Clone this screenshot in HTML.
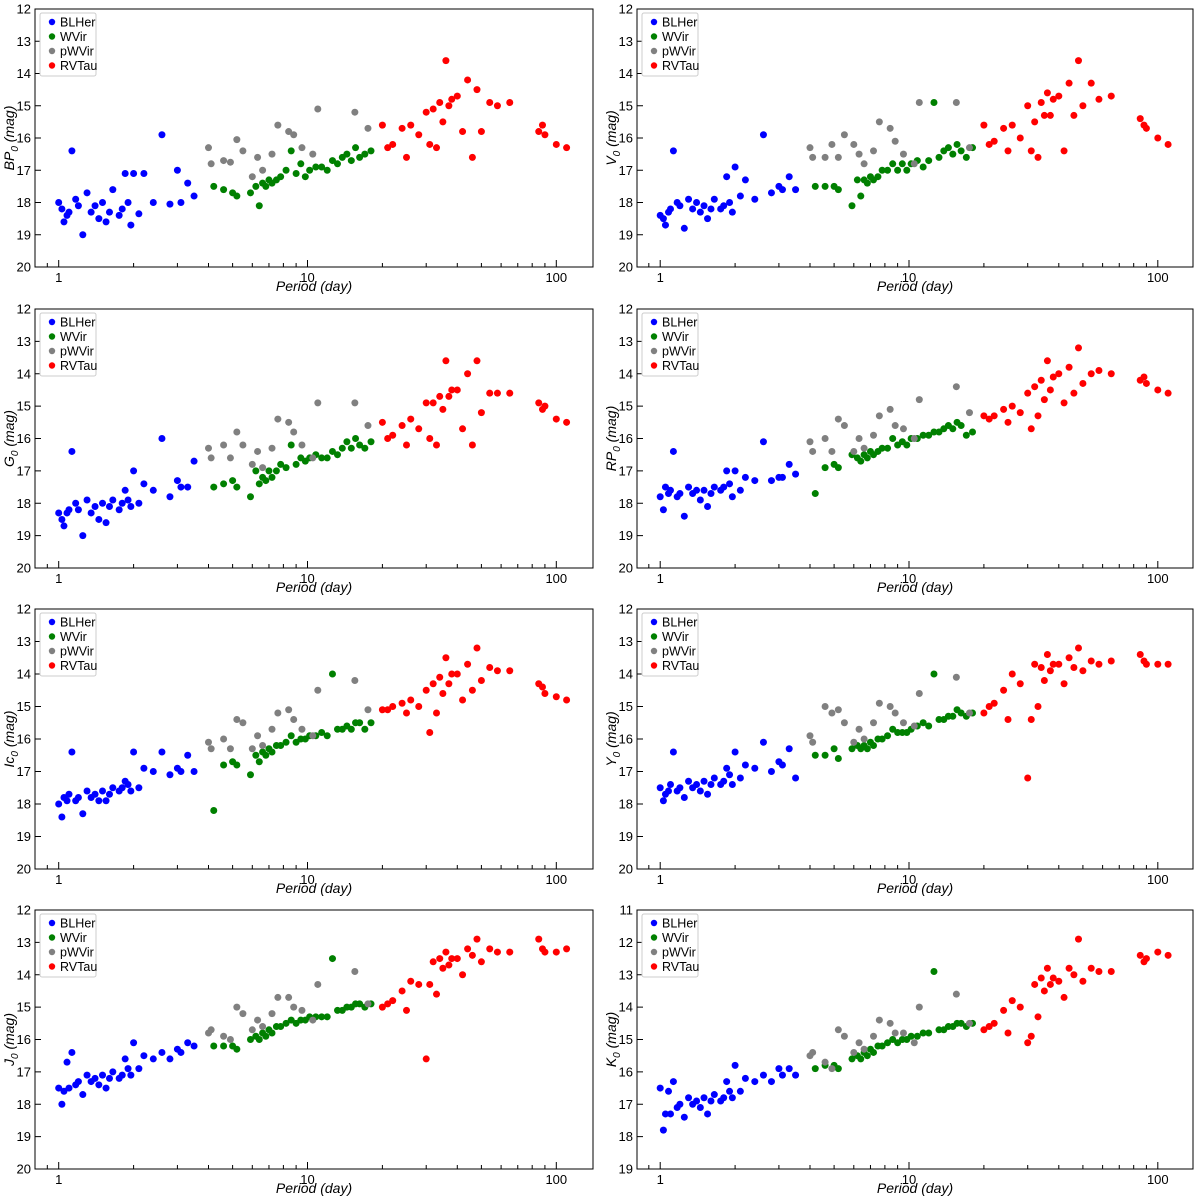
<!DOCTYPE html>
<html><head><meta charset="utf-8"><style>
body{margin:0;background:#fff;}
svg{display:block;font-family:"Liberation Sans",sans-serif;}
</style></head><body>
<svg id="fig" width="1200" height="1198" xmlns="http://www.w3.org/2000/svg"></svg>
<script>
const classNames = ["BLHer","WVir","pWVir","RVTau"];
const classColors = ["#0000ff","#008000","#808080","#ff0000"];
const perBLHer = [1.0,1.03,1.05,1.08,1.1,1.13,1.17,1.2,1.25,1.3,1.35,1.4,1.45,1.5,1.55,1.6,1.65,1.75,1.8,1.85,1.9,1.95,2.0,2.1,2.2,2.4,2.6,2.8,3.0,3.1,3.3,3.5];
const perWVir = [4.2,4.6,5.0,5.2,5.9,6.2,6.4,6.6,6.8,7.0,7.2,7.5,7.8,8.2,8.6,9.0,9.4,9.8,10.2,10.8,11.4,12.0,12.6,13.2,13.8,14.4,15.0,15.6,16.2,17.0,18.0];
const perPWVir = [4.0,4.1,4.6,4.9,5.2,5.5,6.0,6.3,6.6,7.2,7.6,8.4,8.8,9.5,10.5,11.0,15.5,17.5];
const perRVTau = [20,21,22,24,25,26,28,30,31,32,33,34,35,36,37,38,40,42,44,46,48,50,54,58,65,85,88,90,100,110];
const bandLabels = ["BP","V","G","RP","Ic","Y","J","K"];
const yRanges = [[12,20],[12,20],[12,20],[12,20],[12,20],[12,20],[12,20],[11,19]];
const magBLHer = [
[18.0,18.2,18.6,18.4,18.3,16.4,17.9,18.1,19.0,17.7,18.3,18.1,18.5,18.0,18.6,18.3,17.6,18.4,18.2,17.1,18.0,18.7,17.1,18.35,17.1,18.0,15.9,18.05,17.0,18.0,17.4,17.8],
[18.4,18.5,18.7,18.3,18.2,16.4,18.0,18.1,18.8,17.9,18.2,18.0,18.3,18.1,18.5,18.2,17.9,18.2,18.1,17.2,18.0,18.3,16.9,17.8,17.3,17.9,15.9,17.7,17.5,17.6,17.2,17.6],
[18.3,18.5,18.7,18.3,18.2,16.4,18.0,18.2,19.0,17.9,18.3,18.1,18.5,18.0,18.6,18.1,17.9,18.2,18.0,17.6,17.9,18.1,17.0,18.0,17.4,17.6,16.0,17.8,17.3,17.5,17.5,16.7],
[17.8,18.2,17.5,17.7,17.6,16.4,17.8,17.7,18.4,17.5,17.7,17.6,17.9,17.6,18.1,17.7,17.5,17.6,17.5,17.0,17.4,17.8,17.0,17.6,17.2,17.3,16.1,17.3,17.2,17.2,16.8,17.1],
[18.0,18.4,17.8,17.9,17.7,16.4,17.9,17.8,18.3,17.6,17.8,17.7,17.9,17.6,17.9,17.7,17.5,17.6,17.5,17.3,17.4,17.6,16.4,17.5,16.9,17.0,16.4,17.1,16.9,17.0,16.5,17.0],
[17.5,17.9,17.7,17.6,17.4,16.4,17.6,17.5,17.8,17.3,17.5,17.4,17.6,17.3,17.7,17.4,17.2,17.4,17.3,16.9,17.1,17.4,16.4,17.2,16.8,16.9,16.1,17.0,16.7,16.8,16.3,17.2],
[17.5,18.0,17.6,16.7,17.5,16.4,17.4,17.3,17.7,17.1,17.3,17.2,17.4,17.1,17.5,17.2,17.0,17.2,17.1,16.6,16.9,17.1,16.1,16.9,16.5,16.6,16.4,16.6,16.3,16.4,16.1,16.2],
[16.5,17.8,17.3,16.6,17.3,16.3,17.1,17.0,17.4,16.8,17.0,16.9,17.1,16.8,17.3,16.9,16.7,16.9,16.8,16.3,16.6,16.8,15.8,16.6,16.2,16.3,16.1,16.3,15.9,16.1,15.9,16.1]];
const magWVir = [
[17.5,17.6,17.7,17.8,17.7,17.5,18.1,17.4,17.5,17.3,17.4,17.3,17.2,17.0,16.4,17.1,16.8,17.2,17.0,16.9,16.9,17.0,16.7,16.8,16.6,16.5,16.7,16.3,16.6,16.5,16.4],
[17.5,17.5,17.5,17.6,18.1,17.3,17.8,17.3,17.4,17.2,17.3,17.2,17.0,17.0,16.8,17.0,16.8,17.0,16.8,16.7,16.9,16.7,14.9,16.6,16.4,16.3,16.5,16.2,16.4,16.6,16.3],
[17.5,17.4,17.3,17.5,17.8,17.0,17.4,17.2,17.3,17.0,17.2,17.0,16.8,16.9,16.2,16.8,16.6,16.7,16.6,16.5,16.6,16.6,16.4,16.5,16.3,16.1,16.3,16.0,16.2,16.3,16.1],
[17.7,16.9,16.8,16.9,16.5,16.6,16.7,16.5,16.6,16.4,16.5,16.4,16.3,16.3,16.0,16.2,16.1,16.2,16.0,16.0,15.9,15.9,15.8,15.8,15.7,15.6,15.7,15.5,15.6,15.9,15.8],
[18.2,16.8,16.7,16.8,17.1,16.5,16.7,16.4,16.5,16.3,16.4,16.2,16.2,16.1,15.9,16.1,16.0,16.0,15.9,15.9,15.8,15.9,14.0,15.7,15.7,15.6,15.7,15.5,15.5,15.7,15.5],
[16.5,16.5,16.3,16.6,16.3,16.2,16.3,16.2,16.3,16.1,16.2,16.0,16.0,15.9,15.7,15.8,15.8,15.8,15.7,15.6,15.5,15.6,14.0,15.4,15.4,15.3,15.3,15.1,15.2,15.3,15.2],
[16.2,16.2,16.2,16.3,16.0,15.9,16.0,15.8,15.9,15.7,15.8,15.6,15.6,15.5,15.4,15.5,15.4,15.4,15.3,15.3,15.3,15.3,13.5,15.1,15.1,15.0,15.0,14.9,14.9,15.0,14.9],
[15.9,15.8,15.8,15.9,15.6,15.5,15.6,15.4,15.5,15.3,15.4,15.2,15.2,15.1,15.0,15.1,15.0,15.0,14.9,14.9,14.8,14.8,12.9,14.7,14.7,14.6,14.6,14.5,14.5,14.6,14.5]];
const magPWVir = [
[16.3,16.8,16.7,16.75,16.05,16.4,17.2,16.6,17.0,16.5,15.6,15.8,15.9,16.3,16.5,15.1,15.2,15.7],
[16.3,16.6,16.6,16.2,16.6,15.9,16.2,16.5,16.8,16.4,15.5,15.7,16.1,16.5,16.8,14.9,14.9,16.3],
[16.3,16.6,16.2,16.6,15.8,16.2,16.8,16.4,16.9,16.3,15.4,15.5,15.8,16.2,16.6,14.9,14.9,15.6],
[16.1,16.4,16.0,16.4,15.4,15.6,16.4,16.0,16.3,15.9,15.3,15.1,15.6,15.7,16.0,14.8,14.4,15.2],
[16.1,16.3,16.0,16.3,15.4,15.5,16.3,15.9,16.2,15.7,15.2,15.1,15.4,15.7,15.9,14.5,14.2,15.1],
[15.9,16.1,15.0,15.2,15.1,15.5,16.1,15.7,16.0,15.5,14.9,15.0,15.2,15.5,15.6,14.6,14.1,15.2],
[15.8,15.7,15.9,16.0,15.0,15.2,15.7,15.4,15.6,15.2,14.7,14.7,15.0,15.1,15.4,14.3,13.9,14.9],
[15.5,15.4,15.7,15.9,14.7,14.9,15.4,15.1,15.3,14.9,14.4,14.5,14.8,14.8,15.1,14.0,13.6,14.5]];
const magRVTau = [
[15.6,16.3,16.2,15.7,16.6,15.6,15.9,15.2,16.2,15.1,16.3,14.9,15.5,13.6,15.0,14.8,14.7,15.8,14.2,16.6,14.5,15.8,14.9,15.0,14.9,15.8,15.6,15.9,16.2,16.3],
[15.6,16.2,16.1,15.7,16.4,15.6,16.0,15.0,16.4,15.5,16.6,14.9,15.3,14.6,15.3,14.8,14.7,16.4,14.3,15.3,13.6,15.0,14.3,14.8,14.7,15.4,15.6,15.7,16.0,16.2],
[15.5,16.0,15.9,15.6,16.2,15.4,15.7,14.9,16.0,14.9,16.2,14.7,15.1,13.6,14.7,14.5,14.5,15.7,14.0,16.2,13.6,15.2,14.6,14.6,14.6,14.9,15.1,15.0,15.4,15.5],
[15.3,15.4,15.3,15.1,15.5,15.0,15.2,14.6,15.7,14.4,15.3,14.2,14.8,13.6,14.5,14.1,14.0,14.9,13.8,14.6,13.2,14.3,14.0,13.9,14.0,14.2,14.1,14.3,14.5,14.6],
[15.1,15.1,15.0,14.9,15.2,14.8,15.0,14.5,15.8,14.3,15.2,14.1,14.6,13.5,14.3,14.0,14.0,14.8,13.7,14.5,13.2,14.2,13.8,13.9,13.9,14.3,14.4,14.6,14.7,14.8],
[15.2,15.0,14.9,14.5,15.4,14.0,14.3,17.2,15.4,13.7,15.0,13.8,14.2,13.4,13.9,13.7,13.7,14.3,13.5,13.8,13.2,13.9,13.6,13.7,13.6,13.4,13.6,13.7,13.7,13.7],
[15.0,14.9,14.8,14.5,15.1,14.2,14.3,16.6,14.3,13.6,14.6,13.5,13.8,13.3,13.7,13.5,13.5,14.0,13.2,13.4,12.9,13.6,13.2,13.3,13.3,12.9,13.2,13.3,13.3,13.2],
[14.7,14.6,14.5,14.1,14.8,13.8,14.0,15.1,14.9,13.3,14.3,13.1,13.5,12.8,13.3,13.1,13.2,13.7,12.8,13.0,11.9,13.2,12.8,12.9,12.9,12.4,12.6,12.5,12.3,12.4]];
const xTickVals = [1,10,100];
const xTickLabels = ["1","10","100"];

const NS="http://www.w3.org/2000/svg";
const svg=document.getElementById('fig');
function mk(tag,attrs,parent){const e=document.createElementNS(NS,tag);for(const k in attrs)e.setAttribute(k,attrs[k]);(parent||svg).appendChild(e);return e;}
const colsX=[[35,593,58.7],[637,1193,660.2]];
const rowsY=[[9,267],[309,568],[609,869],[910,1169]];
const decade=248.8;
const allPer=[perBLHer,perWVir,perPWVir,perRVTau];
const allMag=[magBLHer,magWVir,magPWVir,magRVTau];
for(let p=0;p<8;p++){
  const c=colsX[p%2], r=rowsY[Math.floor(p/2)];
  const x0=c[0],x1=c[1],y0=r[0],y1=r[1];
  const [ymin,ymax]=yRanges[p];
  const xs=v=>c[2]+Math.log10(v)*decade;
  const ys=v=>y0+(v-ymin)/(ymax-ymin)*(y1-y0);
  const g=mk('g',{});
  
  
  for(let k=0;k<4;k++){
    const per=allPer[k], mag=allMag[k][p];
    const sg=mk('g',{fill:classColors[k]},g);
    
    
    for(let i=0;i<Math.min(per.length,mag.length);i++){
      const d=mk('circle',{cx:xs(per[i]),cy:ys(mag[i]),r:3.5},sg);
      
      
    }
  }
  const fr=mk('rect',{x:x0,y:y0,width:x1-x0,height:y1-y0,fill:'none',stroke:'#000','stroke-width':1},g);
  
  
  for(let v=ymin;v<=ymax;v++){
    const y=ys(v);
    mk('line',{x1:x0,x2:x0+6,y1:y,y2:y,stroke:'#000'},g);
    const t=mk('text',{x:x0-4,y:y+4.5,'text-anchor':'end','font-size':13},g);
    t.textContent=v;
    
    
  }
  for(let d=0;d<3;d++){
    for(let m=1;m<10;m++){
      const v=Math.pow(10,d)*m;
      const x=xs(v); if(x<x0||x>x1)continue;
      mk('line',{x1:x,x2:x,y1:y1,y2:y1-(m===1?7:4),stroke:'#000'},g);
    }
  }
  mk('line',{x1:xs(0.9),x2:xs(0.9),y1:y1,y2:y1-4,stroke:'#000'},g);
  for(let i=0;i<xTickVals.length;i++){
    const t=mk('text',{x:xs(xTickVals[i]),y:y1+15,'text-anchor':'middle','font-size':13},g);
    t.textContent=xTickLabels[i];
    
    
  }
  const xl=mk('text',{x:(x0+x1)/2,y:y1+24,'text-anchor':'middle','font-size':14,'font-style':'italic'},g);
  xl.textContent='Period (day)';
  
  
  const yl=mk('text',{x:0,y:0,'text-anchor':'middle','font-size':14,'font-style':'italic',transform:`translate(${x0-21},${(y0+y1)/2}) rotate(-90)`},g);
  yl.innerHTML=bandLabels[p]+'<tspan font-size="10" dy="4">0</tspan><tspan dy="-4"> (mag)</tspan>';
  
  
  const lg=mk('g',{},g);
  
  
  mk('rect',{x:x0+5,y:y0+4,width:56,height:63,fill:'#fff',stroke:'#ccc',rx:2},lg);
  for(let k=0;k<4;k++){
    const yy=y0+13+k*14.5;
    mk('circle',{cx:x0+17,cy:yy,r:3.2,fill:classColors[k]},lg);
    const t=mk('text',{x:x0+25,y:yy+4.5,'font-size':12.5},lg);
    t.textContent=classNames[k];
    
    
  }
}
</script>
</body></html>
